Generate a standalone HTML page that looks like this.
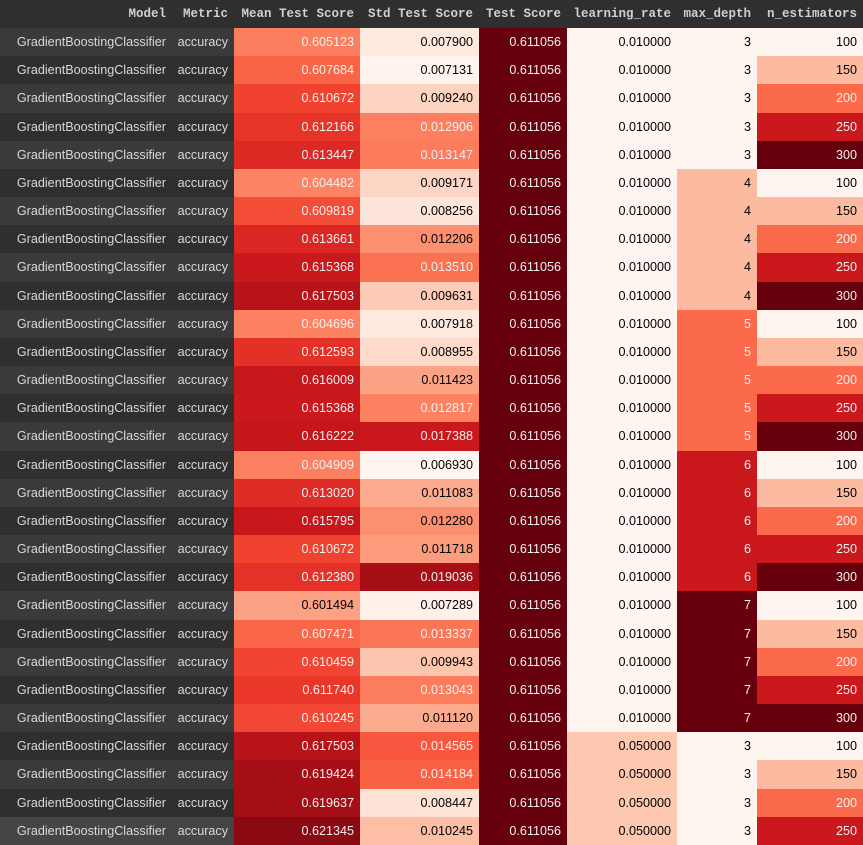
<!DOCTYPE html>
<html><head><meta charset="utf-8">
<style>
html,body{margin:0;padding:0;background:#2f2f2f;width:863px;height:845px;overflow:hidden}
#tbl{position:relative;width:863px;height:845px}
.c{position:absolute;box-sizing:border-box;padding-right:6px;text-align:right;white-space:nowrap;font-family:"Liberation Sans",sans-serif;font-size:12.6px}
.h{font-family:"Liberation Mono",monospace;font-weight:bold;font-size:12.5px;color:#d0d0d0;line-height:28px;height:28px;top:0}
</style></head><body>
<div id="tbl"></div>
<script>
const headers=["Model","Metric","Mean Test Score","Std Test Score","Test Score","learning_rate","max_depth","n_estimators"];
const meanScores=[0.605123,0.607684,0.610672,0.612166,0.613447,0.604482,0.609819,0.613661,0.615368,0.617503,0.604696,0.612593,0.616009,0.615368,0.616222,0.604909,0.613020,0.615795,0.610672,0.612380,0.601494,0.607471,0.610459,0.611740,0.610245,0.617503,0.619424,0.619637,0.621345];
const stdScores=[0.007900,0.007131,0.009240,0.012906,0.013147,0.009171,0.008256,0.012206,0.013510,0.009631,0.007918,0.008955,0.011423,0.012817,0.017388,0.006930,0.011083,0.012280,0.011718,0.019036,0.007289,0.013337,0.009943,0.013043,0.011120,0.014565,0.014184,0.008447,0.010245];
const testScores=Array(29).fill(0.611056);
const learningRates=[0.01,0.01,0.01,0.01,0.01,0.01,0.01,0.01,0.01,0.01,0.01,0.01,0.01,0.01,0.01,0.01,0.01,0.01,0.01,0.01,0.01,0.01,0.01,0.01,0.01,0.05,0.05,0.05,0.05];
const maxDepths=[3,3,3,3,3,4,4,4,4,4,5,5,5,5,5,6,6,6,6,6,7,7,7,7,7,3,3,3,3];
const nEstimators=[100,150,200,250,300,100,150,200,250,300,100,150,200,250,300,100,150,200,250,300,100,150,200,250,300,100,150,200,250];

const colX=[0,172,234,360,479,567,677,757,863];
const stops=["#fff5f0","#fee0d2","#fcbba1","#fc9272","#fb6a4a","#ef3b2c","#cb181d","#a50f15","#67000d"].map(h=>[1,3,5].map(i=>parseInt(h.substr(i,2),16)));
function reds(t){t=Math.max(0,Math.min(1,t));const p=t*8,i=Math.min(7,Math.floor(p)),f=p-i;return stops[i].map((v,k)=>Math.round(v+(stops[i+1][k]-v)*f));}
function lum(c){const l=c.map(v=>{v/=255;return v<=0.03928?v/12.92:Math.pow((v+0.055)/1.055,2.4)});return 0.2126*l[0]+0.7152*l[1]+0.0722*l[2];}
const cols=[
 {vals:meanScores,min:0.5906,max:0.6237,fmt:v=>v.toFixed(6),name:'mean-test-score'},
 {vals:stdScores,min:0.00693,max:0.0208,fmt:v=>v.toFixed(6),name:'std-test-score'},
 {vals:testScores,min:0,max:0,fmt:v=>v.toFixed(6),name:'test-score'},
 {vals:learningRates,min:0.01,max:0.2,fmt:v=>v.toFixed(6),name:'learning-rate'},
 {vals:maxDepths,min:3,max:7,fmt:v=>String(v),name:'max-depth'},
 {vals:nEstimators,min:100,max:300,fmt:v=>String(v),name:'n-estimators'}];
const tbl=document.getElementById('tbl');
headers.forEach((h,i)=>{
 const d=document.createElement('div');d.className='c h';
 d.style.left=colX[i]+'px';d.style.width=(colX[i+1]-colX[i])+'px';d.textContent=h;
 
 
 tbl.appendChild(d);
});
const H0=28,RH=(845-28)/29;
meanScores.forEach((_,r)=>{
 const y=H0+r*RH,hgt=RH;
 const rowBg=r===28?'#454545':(r%2===0?'#3a3a3a':'#2f2f2f');
 ["GradientBoostingClassifier","accuracy"].forEach((t,i)=>{
  const d=document.createElement('div');d.className='c';
  d.style.cssText+=`left:${colX[i]}px;width:${colX[i+1]-colX[i]}px;top:${y}px;height:${hgt+0.5}px;line-height:${hgt}px;background:${rowBg};color:#d8d8d8`;
  d.textContent=t;
  
  
  tbl.appendChild(d);
 });
 cols.forEach((c,j)=>{
  const v=c.vals[r];const t=c.max===c.min?1:(v-c.min)/(c.max-c.min);
  const rgb=reds(t);const d=document.createElement('div');d.className='c';
  d.style.cssText+=`left:${colX[j+2]}px;width:${colX[j+3]-colX[j+2]}px;top:${y}px;height:${hgt+0.5}px;line-height:${hgt}px;background:rgb(${rgb});color:${lum(rgb)<0.408?'#f1f1f1':'#000'}`;
  d.textContent=c.fmt(v);
  
  
  tbl.appendChild(d);
 });
});
</script>
</body></html>
